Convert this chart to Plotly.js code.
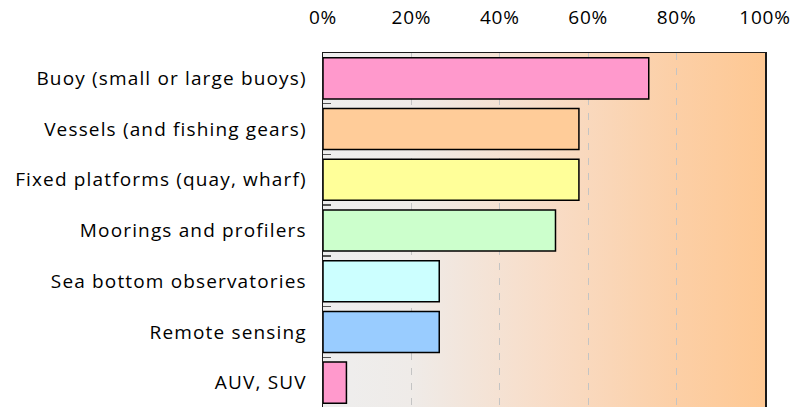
<!DOCTYPE html>
<html>
<head>
<meta charset="utf-8">
<script src="https://cdn.plot.ly/plotly-3.0.1.min.js"></script>
<style>
  html, body { margin: 0; padding: 0; background: #ffffff; overflow: hidden; }
  #grafico { width: 806px; height: 410px; }
  /* etiquetas un poco mas espaciadas, como en el original */
  #grafico .ytick text { letter-spacing: 1.15px; }
  #grafico .xtick text { letter-spacing: 0.8px; }
</style>
</head>
<body>
<div id="grafico"></div>
<script>
// categorias (de arriba a abajo) y porcentajes
let categorias = [
    'Buoy (small or large buoys)',
    'Vessels (and fishing gears)',
    'Fixed platforms (quay, wharf)',
    'Moorings and profilers',
    'Sea bottom observatories',
    'Remote sensing',
    'AUV, SUV'
];
let valores = [73.7, 57.9, 57.9, 52.6, 26.3, 26.3, 5.3];
let colores = ['#FF99CC', '#FFCC99', '#FFFF99', '#CCFFCC', '#CCFFFF', '#99CCFF', '#FF99CC'];
let ticksX = [0, 20, 40, 60, 80, 100];

// fondo degradado gris -> naranja
let svgFondo = "<svg xmlns='http://www.w3.org/2000/svg' width='100' height='100' preserveAspectRatio='none'>" +
    "<defs><linearGradient id='g' x1='0' y1='0' x2='1' y2='0'>" +
    "<stop offset='0' stop-color='#EEEEEE'/>" +
    "<stop offset='0.2' stop-color='#EFEBE8'/>" +
    "<stop offset='0.5' stop-color='#F8DDC8'/>" +
    "<stop offset='0.8' stop-color='#FCCFA6'/>" +
    "<stop offset='1' stop-color='#FEC893'/>" +
    "</linearGradient></defs><rect width='100' height='100' fill='url(#g)'/></svg>";
let fondo = 'data:image/svg+xml;utf8,' + encodeURIComponent(svgFondo);

let graf = {
    x: valores,
    y: categorias,
    type: 'bar',
    orientation: 'h',
    marker: {
        color: colores,
        line: { color: '#000000', width: 1.5 }
    },
    hoverinfo: 'x+y'
};

let layout = {
    width: 806,
    height: 410,
    margin: { l: 323, r: 41, t: 53, b: 2 },
    paper_bgcolor: '#ffffff',
    plot_bgcolor: '#EEEEEE',
    font: { family: '"Open Sans", sans-serif', size: 19, color: '#000000' },
    bargap: 0.19,
    showlegend: false,
    xaxis: {
        side: 'top',
        range: [0, 100],
        tickvals: ticksX,
        ticktext: ticksX.map(v => v + '%'),
        tickfont: { size: 19 },
        showgrid: true,
        gridcolor: '#C4C4C4',
        griddash: '7px,8px',
        gridwidth: 1,
        zeroline: false,
        showline: true,
        mirror: true,
        linecolor: '#1a1a1a',
        linewidth: 1.5,
        ticks: '',
        ticklabelstandoff: 20,
        fixedrange: true
    },
    yaxis: {
        autorange: 'reversed',
        type: 'category',
        showgrid: false,
        showline: true,
        mirror: true,
        linecolor: '#1a1a1a',
        linewidth: 1.5,
        ticks: 'inside',
        tickson: 'boundaries',
        ticklen: 8,
        tickcolor: '#555555',
        tickwidth: 1.5,
        ticklabelstandoff: 11,
        fixedrange: true
    },
    images: [{
        source: fondo,
        xref: 'paper', yref: 'paper',
        x: 0, y: 1, sizex: 1, sizey: 1,
        xanchor: 'left', yanchor: 'top',
        sizing: 'stretch',
        layer: 'below'
    }]
};

let contenedor = document.getElementById('grafico');
Plotly.newPlot(contenedor, [graf], layout, { displayModeBar: false, staticPlot: true });
</script>
</body>
</html>
